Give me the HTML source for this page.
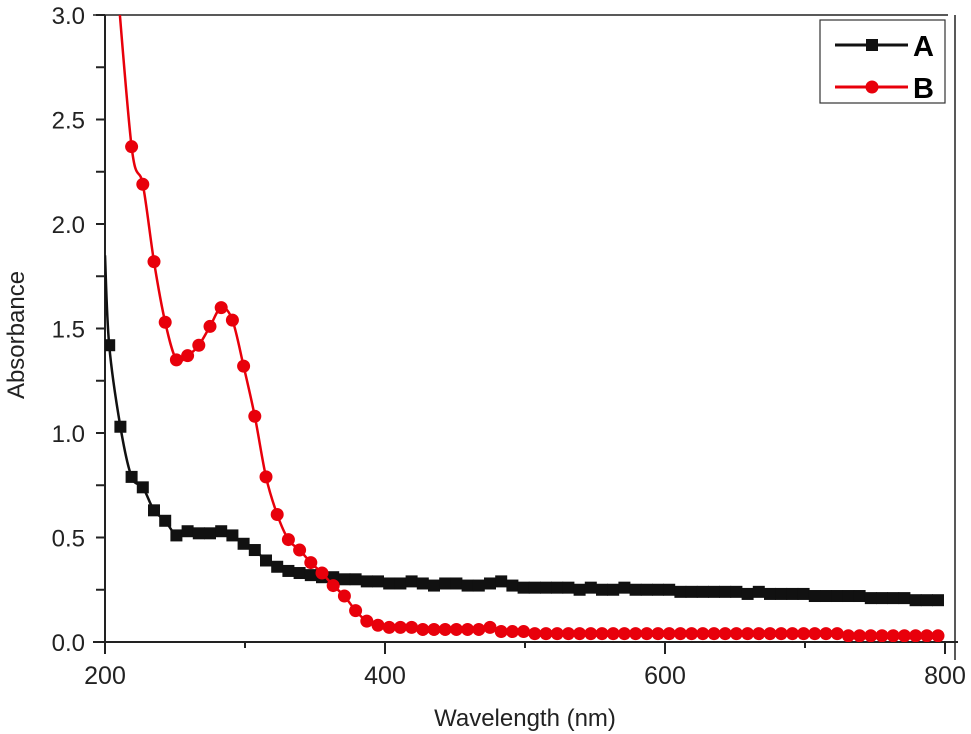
<!DOCTYPE html>
<html><head><meta charset="utf-8"><style>
body{margin:0;background:#fff}
svg{display:block;font-family:"Liberation Sans",Arial,sans-serif}
</style></head><body>
<svg id="chart" width="971" height="734">
<defs><clipPath id="clip"><rect x="105" y="15" width="850" height="627"/></clipPath></defs>
<g id="axes"></g>
<g id="plot" clip-path="url(#clip)"></g>
<g id="legend">
<rect x="820" y="20" width="125" height="83" fill="#fff" stroke="#333" stroke-width="1.2"/>
<g>
<line x1="835" y1="45" x2="908" y2="45" stroke="#111" stroke-width="3"/>
<rect x="866" y="39" width="12" height="12" fill="#111"/>
<text x="913" y="56" font-size="29" font-weight="bold">A</text></g>
<g>
<line x1="835" y1="87" x2="908" y2="87" stroke="#e8000b" stroke-width="3"/>
<circle cx="872" cy="87" r="6.5" fill="#e8000b"/>
<text x="913" y="98" font-size="29" font-weight="bold">B</text></g>
</g>
<text x="525" y="726" font-size="24" text-anchor="middle" fill="#222">Wavelength (nm)</text>
<text transform="translate(24,335) rotate(-90)" font-size="24" text-anchor="middle" fill="#222">Absorbance</text>
</svg>
<script>
const wavelengths=[211,219,227,235,243,251,259,267,275,283,291,299,307,315,323,331,339,347,355,363,371,379,387,395,403,411,419,427,435,443,451,459,467,475,483,491,499,507,515,523,531,539,547,555,563,571,579,587,595,603,611,619,627,635,643,651,659,667,675,683,691,699,707,715,723,731,739,747,755,763,771,779,787,795];
const seriesA=[1.03,0.79,0.74,0.63,0.58,0.51,0.53,0.52,0.52,0.53,0.51,0.47,0.44,0.39,0.36,0.34,0.33,0.32,0.31,0.31,0.30,0.30,0.29,0.29,0.28,0.28,0.29,0.28,0.27,0.28,0.28,0.27,0.27,0.28,0.29,0.27,0.26,0.26,0.26,0.26,0.26,0.25,0.26,0.25,0.25,0.26,0.25,0.25,0.25,0.25,0.24,0.24,0.24,0.24,0.24,0.24,0.23,0.24,0.23,0.23,0.23,0.23,0.22,0.22,0.22,0.22,0.22,0.21,0.21,0.21,0.21,0.20,0.20,0.20];
const seriesB=[null,2.37,2.19,1.82,1.53,1.35,1.37,1.42,1.51,1.60,1.54,1.32,1.08,0.79,0.61,0.49,0.44,0.38,0.33,0.27,0.22,0.15,0.10,0.08,0.07,0.07,0.07,0.06,0.06,0.06,0.06,0.06,0.06,0.07,0.05,0.05,0.05,0.04,0.04,0.04,0.04,0.04,0.04,0.04,0.04,0.04,0.04,0.04,0.04,0.04,0.04,0.04,0.04,0.04,0.04,0.04,0.04,0.04,0.04,0.04,0.04,0.04,0.04,0.04,0.04,0.03,0.03,0.03,0.03,0.03,0.03,0.03,0.03,0.03];
const leadA=[[200,1.85],[203,1.42]];
const leadB=[[207,3.3]];
const xTicks=[200,300,400,500,600,700,800];
const xLabels=[200,400,600,800];
const yTicks=[0,0.25,0.5,0.75,1,1.25,1.5,1.75,2,2.25,2.5,2.75,3];
const yLabels=["0.0","0.5","1.0","1.5","2.0","2.5","3.0"];
const X=v=>105+(v-200)*1.4, Y=v=>642-v*209;
const NS="http://www.w3.org/2000/svg";
function mk(t,a,p){const e=document.createElementNS(NS,t);for(const k in a)e.setAttribute(k,a[k]);p.appendChild(e);return e;}
const axes=document.getElementById('axes'),plot=document.getElementById('plot');
let e;
e=mk('line',{x1:93,y1:15,x2:948,y2:15,stroke:'#222','stroke-width':1.5},axes);


e=mk('line',{x1:955,y1:15,x2:955,y2:660,stroke:'#222','stroke-width':1.5},axes);


e=mk('line',{x1:105,y1:15,x2:105,y2:654,stroke:'#222','stroke-width':2},axes);


e=mk('line',{x1:93,y1:642,x2:958,y2:642,stroke:'#222','stroke-width':2},axes);


xTicks.forEach(t=>{const len=(t%200===0)?12:6;e=mk('line',{x1:X(t),y1:642,x2:X(t),y2:642+len,stroke:'#222','stroke-width':2},axes);

});
xLabels.forEach(t=>{e=mk('text',{x:X(t),y:684,'font-size':25,'text-anchor':'middle',fill:'#222'},axes);e.textContent=t;

});
yTicks.forEach(t=>{e=mk('line',{x1:96,y1:Y(t),x2:105,y2:Y(t),stroke:'#222','stroke-width':2},axes);

});
yLabels.forEach(t=>{e=mk('text',{x:85,y:Y(+t)+9,'font-size':24,'text-anchor':'end',fill:'#222'},axes);e.textContent=t;

});
function smooth(p){let d='M'+p[0][0]+','+p[0][1];for(let i=0;i<p.length-1;i++){const p0=p[i-1]||p[i],p1=p[i],p2=p[i+1],p3=p[i+2]||p2;
d+=` C${p1[0]+(p2[0]-p0[0])/6},${p1[1]+(p2[1]-p0[1])/6} ${p2[0]-(p3[0]-p1[0])/6},${p2[1]-(p3[1]-p1[1])/6} ${p2[0]},${p2[1]}`;}return d;}
function draw(vals,lead,color,shape,name){
const g=mk('g',{},plot);


const pts=lead.map(p=>[X(p[0]),Y(p[1])]);const mp=[];
if(shape==='square')mp.push(pts[pts.length-1]);
vals.forEach((v,i)=>{if(v!==null){const p=[X(wavelengths[i]),Y(v)];pts.push(p);mp.push(p);}});
mk('path',{d:smooth(pts),fill:'none',stroke:color,'stroke-width':2.5},g);
mp.forEach(p=>{let m;if(shape==='square')m=mk('rect',{x:p[0]-6,y:p[1]-6,width:12,height:12,fill:color},g);
else m=mk('circle',{cx:p[0],cy:p[1],r:6.5,fill:color},g);

});
}
draw(seriesA,leadA,'#111','square','series-a');
draw(seriesB,leadB,'#e8000b','circle','series-b');
</script>
</body></html>
